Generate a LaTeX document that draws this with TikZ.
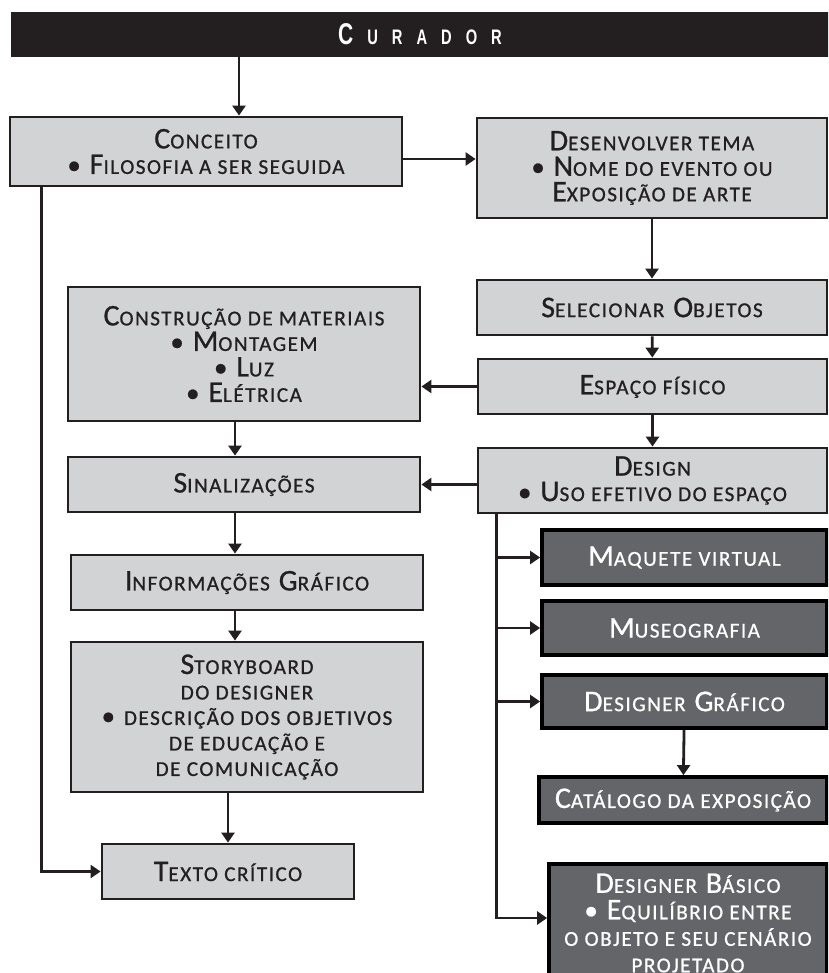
\documentclass[tikz,border=0pt]{standalone}
\usepackage{fontspec}
\setmainfont{Carlito}
\newfontfamily\boxfont[LetterSpace=7,FakeBold=0.8]{Carlito}
\newfontfamily\headfont[FakeStretch=0.7]{Liberation Sans}
\usetikzlibrary{arrows.meta}
\definecolor{boxgray}{HTML}{D1D3D4}
\definecolor{darkbox}{HTML}{646569}
\definecolor{ink}{HTML}{231F20}
% small caps made by hand
\newcommand\smc[1]{{\fontsize{21.2}{25.5}\selectfont\MakeUppercase{#1}}}
\newcommand\bul{{\fontsize{27}{25.5}\selectfont\textbullet}}

\begin{document}
\begin{tikzpicture}[x=1pt,y=-1pt,
    box/.style={draw=ink,line width=2.8pt,fill=boxgray,text=ink,inner sep=0pt,align=center,
        font=\boxfont\fontsize{30}{25.5}\selectfont},
    dbox/.style={box,draw=black,line width=3.8pt,fill=darkbox,text=white},
    arr/.style={draw=ink,line width=2.8pt,-{Triangle[length=10pt,width=13pt]}}]
    \path[use as bounding box,clip] (0,0) rectangle (828,973);

    % header
    \node[fill=ink,text=white,inner sep=0pt,minimum width=818,minimum height=45,
        font=\headfont\bfseries] (cur) at (420,34.5)
        {{\fontsize{30}{30}\selectfont C}\hspace{14pt}\fontsize{21}{21}\selectfont
         U\hspace{14pt}R\hspace{14pt}A\hspace{14pt}D\hspace{14pt}O\hspace{14pt}R};

    % left column
    \node[box,minimum width=392,minimum height=69] (conc) at (206,151.5)
        {C\smc{onceito}\\ \bul{} F\smc{ilosofia a ser seguida}};
    \node[box,minimum width=352,minimum height=134] (cons) at (244,354)
        {C\smc{onstrução de materiais}\\ \bul{} M\smc{ontagem}\\ \bul{} L\smc{uz}\\ \bul{} E\smc{létrica}};
    \node[box,minimum width=352,minimum height=55] (sin) at (244,484.5) {S\smc{inalizações}};
    \node[box,minimum width=352,minimum height=55] (inf) at (247,582.5)
        {I\smc{nformações} G\smc{ráfico}};
    \node[box,minimum width=352,minimum height=150] (story) at (247,717)
        {S\smc{toryboard}\\ \smc{do designer}\\ \bul{} \smc{descrição dos objetivos}\\
         \smc{de educação e}\\ \smc{de comunicação}};
    \node[box,minimum width=252,minimum height=55] (texto) at (228,871.5) {T\smc{exto crítico}};

    % right column
    \node[box,minimum width=350,minimum height=100] (des) at (652,168)
        {D\smc{esenvolver tema}\\ \bul{} N\smc{ome do evento ou}\\ E\smc{xposição de arte}};
    \node[box,minimum width=350,minimum height=55] (sel) at (652,307.5)
        {S\smc{elecionar} O\smc{bjetos}};
    \node[box,minimum width=349,minimum height=55] (esp) at (652.5,386.5) {E\smc{spaço físico}};
    \node[box,minimum width=349,minimum height=65] (dsg) at (652.5,480.5)
        {D\smc{esign}\\ \bul{} U\smc{so efetivo do espaço}};

    % dark boxes
    \node[dbox,minimum width=285,minimum height=55] (maq) at (684.5,557.5) {M\smc{aquete virtual}};
    \node[dbox,minimum width=285,minimum height=54] (mus) at (684.5,628) {M\smc{useografia}};
    \node[dbox,minimum width=285,minimum height=53] (dg) at (684.5,701.5)
        {D\smc{esigner} G\smc{ráfico}};
    \node[dbox,minimum width=288,minimum height=46] (cat) at (683,800)
        {C\smc{atálogo da exposição}};
    \node[dbox,minimum width=278,minimum height=126,font=\boxfont\fontsize{30}{26.5}\selectfont]
        (dbas) at (688,927)
        {D\smc{esigner} B\smc{ásico}\\ \bul{} E\smc{quilíbrio entre}\\
         \smc{o objeto e seu cenário}\\ \smc{projetado}\vspace{8pt}};

    % connectors
    \draw[arr] ([xshift=33]conc.north |- cur.south) -- ([xshift=33]conc.north);
    \draw[arr] ([yshift=-7.5]conc.east) -- ([yshift=-7.5]conc.east -| des.west);
    \draw[arr] (des) -- (sel);
    \draw[arr] (sel) -- (esp);
    \draw[arr] (esp) -- (dsg);
    \draw[arr] (esp.west) -- (esp.west -| cons.east);
    \draw[arr] (sin.east -| dsg.west) -- (sin.east);
    \draw[arr] ([xshift=-9]cons.south) -- ([xshift=-9]cons.south |- sin.north);
    \draw[arr] ([xshift=-9]sin.south) -- ([xshift=-9]sin.south |- inf.north);
    \draw[arr] ([xshift=-12]inf.south) -- ([xshift=-12]inf.south |- story.north);
    \draw[arr] (texto.north |- story.south) -- (texto.north);
    \draw[arr] ([xshift=33]conc.south west) |- (texto.west);

    \coordinate (br) at ([xshift=20]dsg.south west);
    \draw[arr] (br) |- (maq.west);
    \draw[arr] (br) |- (mus.west);
    \draw[arr] (br) |- (dg.west);
    \draw[arr] (br) |- ([yshift=9]dbas.west);
    \draw[arr] (dg) -- (cat);
\end{tikzpicture}
\end{document}
